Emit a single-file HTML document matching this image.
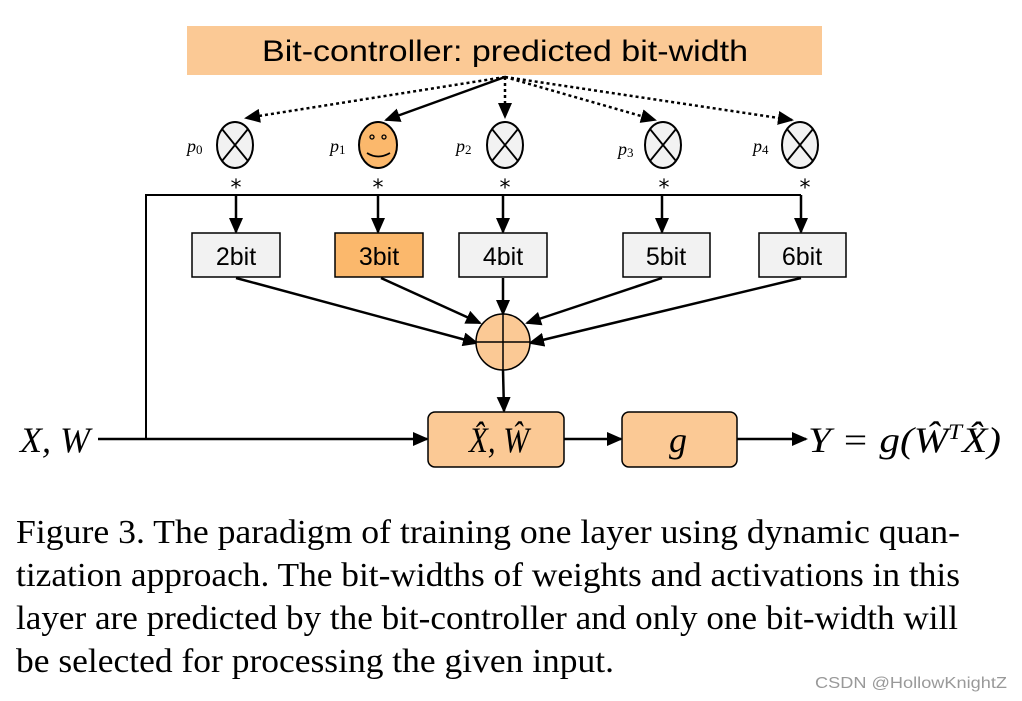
<!DOCTYPE html>
<html><head><meta charset="utf-8"><style>html,body{margin:0;padding:0;background:#fff;width:1022px;height:701px;overflow:hidden}</style></head>
<body>
<svg width="1022" height="701" viewBox="0 0 1022 701" xmlns="http://www.w3.org/2000/svg">
<defs>
<marker id="b" markerWidth="16" markerHeight="14" refX="14" refY="7" orient="auto" markerUnits="userSpaceOnUse"><path d="M0,0 L16,7 L0,14 z" fill="#000"/></marker>
</defs>
<rect x="187" y="26" width="635" height="49" fill="#fbc995"/>
<text x="505" y="61" font-family="Liberation Sans, sans-serif" font-size="30" text-anchor="middle" textLength="486" lengthAdjust="spacingAndGlyphs">Bit-controller: predicted bit-width</text>
<g stroke="#000" stroke-width="2.5" fill="none">
<line x1="505" y1="77" x2="246" y2="118" stroke-dasharray="3,3" marker-end="url(#b)"/>
<line x1="505" y1="77" x2="386" y2="120" marker-end="url(#b)"/>
<line x1="505" y1="77" x2="505" y2="117" stroke-dasharray="3,3" marker-end="url(#b)"/>
<line x1="505" y1="77" x2="655" y2="120" stroke-dasharray="3,3" marker-end="url(#b)"/>
<line x1="505" y1="77" x2="792" y2="120" stroke-dasharray="3,3" marker-end="url(#b)"/>
</g>
<g stroke="#000" stroke-width="2" fill="#f2f2f2">
<ellipse cx="235" cy="145" rx="18" ry="23"/>
<ellipse cx="505" cy="145" rx="18" ry="23"/>
<ellipse cx="663" cy="145" rx="18" ry="23"/>
<ellipse cx="800" cy="145" rx="18" ry="23"/>
<ellipse cx="378" cy="145" rx="19" ry="23" fill="#fbb86c"/>
</g>
<g stroke="#000" stroke-width="1.8">
<path d="M222,129 L248,161 M248,129 L222,161"/>
<path d="M492,129 L518,161 M518,129 L492,161"/>
<path d="M650,129 L676,161 M676,129 L650,161"/>
<path d="M787,129 L813,161 M813,129 L787,161"/>
</g>
<circle cx="372" cy="137" r="2" fill="none" stroke="#000" stroke-width="1.3"/>
<circle cx="384" cy="137" r="2" fill="none" stroke="#000" stroke-width="1.3"/>
<path d="M367,153 Q378,160 390,153" fill="none" stroke="#000" stroke-width="1.8"/>
<g font-family="Liberation Serif, serif" font-style="italic" font-size="18">
<text x="187" y="152">p<tspan font-size="13" font-style="normal" dy="2">0</tspan></text>
<text x="330" y="152">p<tspan font-size="13" font-style="normal" dy="2">1</tspan></text>
<text x="456" y="152">p<tspan font-size="13" font-style="normal" dy="2">2</tspan></text>
<text x="618" y="155">p<tspan font-size="13" font-style="normal" dy="2">3</tspan></text>
<text x="753" y="152">p<tspan font-size="13" font-style="normal" dy="2">4</tspan></text>
</g>
<g font-family="DejaVu Sans, sans-serif" font-size="22" text-anchor="middle">
<text x="236" y="195">*</text><text x="378" y="195">*</text><text x="505" y="195">*</text><text x="664" y="195">*</text><text x="805" y="195">*</text>
</g>
<g stroke="#000" stroke-width="2" fill="none">
<polyline points="146,440 146,195 801,195"/>
</g>
<g stroke="#000" stroke-width="2.5">
<line x1="236" y1="195" x2="236" y2="232" marker-end="url(#b)"/>
<line x1="378" y1="195" x2="378" y2="232" marker-end="url(#b)"/>
<line x1="503" y1="195" x2="503" y2="232" marker-end="url(#b)"/>
<line x1="662" y1="195" x2="662" y2="232" marker-end="url(#b)"/>
<line x1="801" y1="195" x2="801" y2="232" marker-end="url(#b)"/>
<line x1="236" y1="278" x2="477" y2="343" marker-end="url(#b)"/>
<line x1="381" y1="278" x2="480" y2="323" marker-end="url(#b)"/>
<line x1="503" y1="278" x2="503" y2="314" marker-end="url(#b)"/>
<line x1="662" y1="278" x2="527" y2="323" marker-end="url(#b)"/>
<line x1="801" y1="278" x2="530" y2="343" marker-end="url(#b)"/>
<line x1="503" y1="370" x2="504" y2="411" marker-end="url(#b)"/>
<line x1="98" y1="439" x2="427" y2="439" marker-end="url(#b)"/>
<line x1="564" y1="439" x2="621" y2="439" marker-end="url(#b)"/>
<line x1="737" y1="439" x2="806" y2="439" marker-end="url(#b)"/>
</g>
<g stroke="#000" stroke-width="1.5" fill="#f2f2f2">
<rect x="192" y="233" width="88" height="44"/>
<rect x="335" y="233" width="88" height="44" fill="#fbb86c"/>
<rect x="459" y="233" width="88" height="44"/>
<rect x="623" y="233" width="87" height="44"/>
<rect x="759" y="233" width="87" height="44"/>
</g>
<g font-family="Liberation Sans, sans-serif" font-size="25" text-anchor="middle">
<text x="236" y="265">2bit</text><text x="379" y="265">3bit</text><text x="503" y="265">4bit</text><text x="666" y="265">5bit</text><text x="802" y="265">6bit</text>
</g>
<ellipse cx="503" cy="342" rx="27" ry="28" fill="#fbc995" stroke="#000" stroke-width="1.5"/>
<path d="M476,342 H530 M503,314 V370" stroke="#000" stroke-width="1.5"/>
<rect x="428" y="412" width="136" height="55" rx="7" fill="#fbc995" stroke="#000" stroke-width="1.5"/>
<rect x="622" y="412" width="115" height="55" rx="7" fill="#fbc995" stroke="#000" stroke-width="1.5"/>
<g font-family="Liberation Serif, serif" font-style="italic" font-size="36">
<text x="20" y="452" textLength="70" lengthAdjust="spacingAndGlyphs">X, W</text>
<text x="469" y="452" textLength="60" lengthAdjust="spacingAndGlyphs">X̂, Ŵ</text>
<text x="669" y="452">g</text>
<text x="808" y="452" textLength="193" lengthAdjust="spacingAndGlyphs">Y = g(Ŵ<tspan font-size="22" dy="-13">T</tspan><tspan dy="13">X̂)</tspan></text>
</g>
<g font-family="Liberation Serif, serif" font-size="34">
<text x="16" y="543" textLength="944" lengthAdjust="spacingAndGlyphs">Figure 3. The paradigm of training one layer using dynamic quan-</text>
<text x="16" y="586" textLength="944" lengthAdjust="spacingAndGlyphs">tization approach. The bit-widths of weights and activations in this</text>
<text x="16" y="629" textLength="942" lengthAdjust="spacingAndGlyphs">layer are predicted by the bit-controller and only one bit-width will</text>
<text x="16" y="672" textLength="598" lengthAdjust="spacingAndGlyphs">be selected for processing the given input.</text>
</g>
<text x="815" y="688" font-family="Liberation Sans, sans-serif" font-size="16" fill="#999" textLength="192" lengthAdjust="spacingAndGlyphs">CSDN @HollowKnightZ</text>
</svg>
</body></html>
